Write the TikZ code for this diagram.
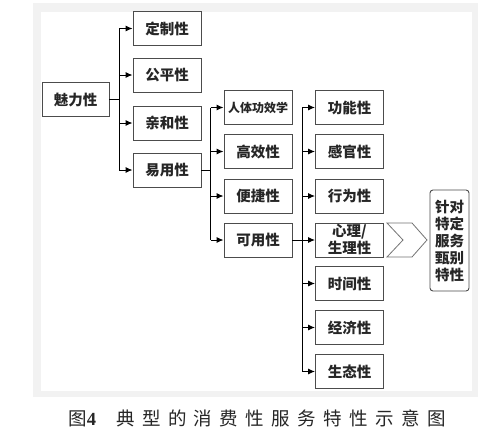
\documentclass[tikz,border=0pt]{standalone}
\usepackage{fontspec}
\setmainfont{Noto Sans CJK SC}
\newfontfamily\capfont[LetterSpace=40]{Noto Sans CJK SC}
\newfontfamily\capnum{Liberation Serif}
\usetikzlibrary{arrows.meta}

\tikzset{
  box/.style={draw=black!70, line width=0.9pt, minimum width=68pt, minimum height=34pt,
    inner sep=1pt, align=center, text=black!85, font=\bfseries\fontsize{14.5}{17}\selectfont},
  link/.style={line width=1pt, -{Latex[length=7pt,width=6pt]}},
  bus/.style={line width=1pt},
}

\begin{document}
\begin{tikzpicture}[x=1pt,y=-1pt]
        \useasboundingbox (0,0) rectangle (487,439);
        % frame
        \fill[black!5] (33,3) rectangle (478,397);
        \fill[white] (41,12) rectangle (472,391);
        % first level
        \node[box,minimum width=67pt] (mlx) at (75.5,99.5) {魅力性};
        \foreach \name/\y/\txt in {dzx/28.5/定制性, gpx/75/公平性, qhx/123/亲和性, yyx/170/易用性}{
            \node[box] (\name) at (167,\y) {\txt};
        }
        % second level
        \node[box,font=\bfseries\fontsize{12}{14}\selectfont] (rtgx) at (258,107.5) {人体功效学};
        \foreach \name/\y/\txt in {gxx/151.5/高效性, bjx/196/便捷性, kyx/240/可用性}{
            \node[box] (\name) at (258,\y) {\txt};
        }
        % third level
        \foreach \name/\y/\txt in {gnx/107.5/功能性, ggx/151.5/感官性, xwx/196/行为性,
                                   xlx/240/{心理/\\生理性}, sjx/283.5/时间性, jjx/327.5/经济性, stx/371.5/生态性}{
            \node[box] (\name) at (349.5,\y) {\txt};
        }
        % result
        \node[draw=black!70, line width=0.9pt, rounded corners=3pt, minimum width=39pt, minimum height=101pt,
              inner sep=1pt, align=center, text=black!85, font=\bfseries\fontsize{14.5}{17}\selectfont]
              (tdtx) at (449.5,240.5) {针对\\特定\\服务\\甄别\\特性};
        % connectors
        \coordinate (b1) at (119,99.5);
        \coordinate (b2) at (210.5,170);
        \coordinate (b3) at (302,240);
        \draw[bus] (mlx.east) -- (b1);
        \draw[bus] (b1 |- dzx) -- (b1 |- yyx);
        \foreach \t in {dzx,gpx,qhx,yyx}{
            \draw[link] (b1 |- \t) -- (\t.west);
        }
        \draw[bus] (yyx.east) -- (b2);
        \draw[bus] (b2 |- rtgx) -- (b2 |- kyx);
        \foreach \t in {rtgx,gxx,bjx,kyx}{
            \draw[link] (b2 |- \t) -- (\t.west);
        }
        \draw[bus] (kyx.east) -- (b3);
        \draw[bus] (b3 |- gnx) -- (b3 |- stx);
        \foreach \t in {gnx,ggx,xwx,xlx,sjx,jjx,stx}{
            \draw[link] (b3 |- \t) -- (\t.west);
        }
        % chevron
        \draw[draw=black!55, line width=0.8pt, fill=white]
            (387,223) -- (412,223) -- (427,240) -- (412,257) -- (387,257) -- (403,240) -- cycle;
        % caption
        \node[text=black!85] (cap) at (257,418.5)
            {\fontsize{18.5}{20}\selectfont 图{\capnum\bfseries 4}\hspace{20pt}{\capfont 典型的消费性服务特性示意图}};
\end{tikzpicture}
\end{document}
